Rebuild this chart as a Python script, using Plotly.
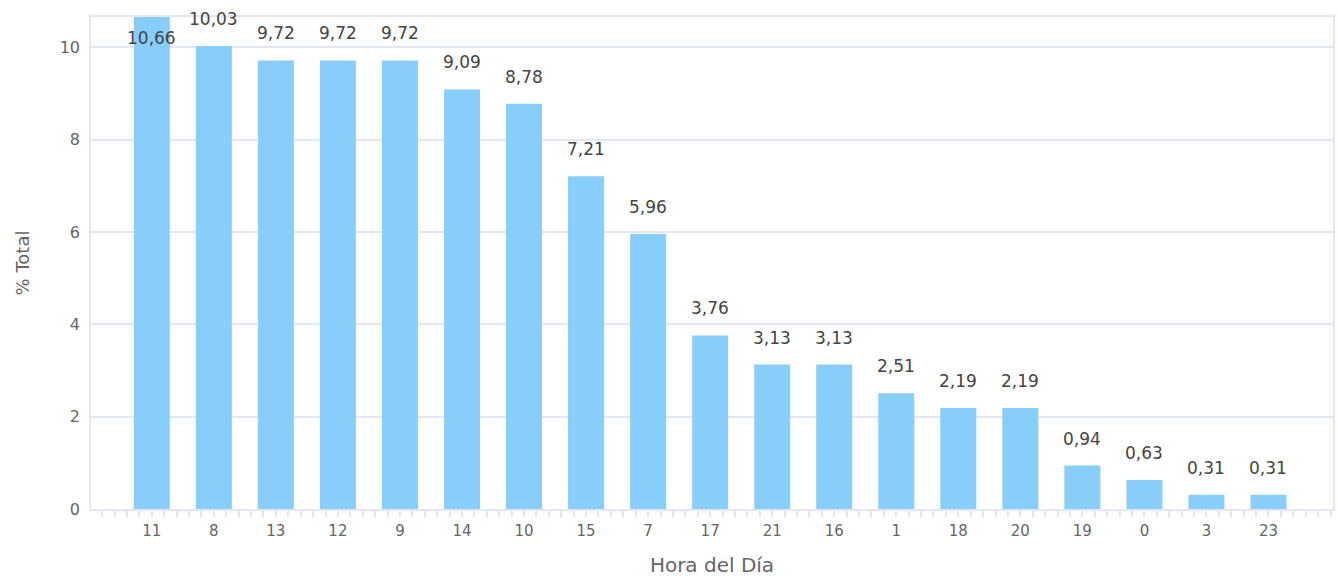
import plotly.graph_objects as go

categories = ["11", "8", "13", "12", "9", "14", "10", "15", "7", "17", "21", "16", "1", "18", "20", "19", "0", "3", "23"]
values = [10.66, 10.03, 9.72, 9.72, 9.72, 9.09, 8.78, 7.21, 5.96, 3.76, 3.13, 3.13, 2.51, 2.19, 2.19, 0.94, 0.63, 0.31, 0.31]
y_ticks = [0, 2, 4, 6, 8, 10]

ymax = 10.66
xs = list(range(len(categories)))
labels = [f"{v:.2f}".replace(".", ",") for v in values]
FONT = "DejaVu Sans, Verdana, sans-serif"

fig = go.Figure()
fig.add_trace(go.Bar(
    x=xs, y=values, width=0.58,
    marker=dict(color="#87CEFA", line=dict(width=0)),
    hoverinfo="skip",
))

grid = "#e4e6f4"
for x, v, t in zip(xs, values, labels):
    inside = v >= ymax - 0.01
    fig.add_annotation(
        x=x, y=v, text=t, showarrow=False,
        yanchor="middle", yshift=(-21 if inside else 27),
        font=dict(family=FONT, size=17, color="#444444"),
    )

fig.update_layout(
    width=1338, height=578,
    margin=dict(l=91, r=5, t=17, b=69, autoexpand=False),
    paper_bgcolor="white", plot_bgcolor="white",
    showlegend=False,
    font=dict(family=FONT, color="#666666"),
    bargap=0.4,
)
fig.update_xaxes(
    range=[-0.98, len(categories) + 0.04],
    tickmode="array", tickvals=xs, ticktext=categories,
    ticks="", tickfont=dict(size=15, color="#666666"),
    ticklabelstandoff=7, automargin=False,
    showgrid=False, zeroline=False,
    showline=True, linecolor=grid, linewidth=1.5, mirror=True,
    minor=dict(dtick=0.2, tick0=0, ticks="outside", ticklen=6, tickcolor=grid, tickwidth=1.5, showgrid=False),
    title=dict(text="Hora del Día", font=dict(size=20, color="#666666"), standoff=19),
)
fig.update_yaxes(
    range=[0, ymax],
    tickmode="array", tickvals=y_ticks,
    tickfont=dict(size=16, color="#666666"),
    showgrid=True, gridcolor=grid, gridwidth=1.5, zeroline=False,
    showline=True, linecolor=grid, linewidth=1.5, mirror=True,
    ticks="", ticklabelstandoff=6, automargin=False,
    title=dict(text="% Total", font=dict(size=18, color="#666666"), standoff=25),
)

fig.write_html(
    "out.html",
    config={"displayModeBar": False},
    post_script="document.body.style.margin='0';document.body.style.overflow='hidden';",
)
